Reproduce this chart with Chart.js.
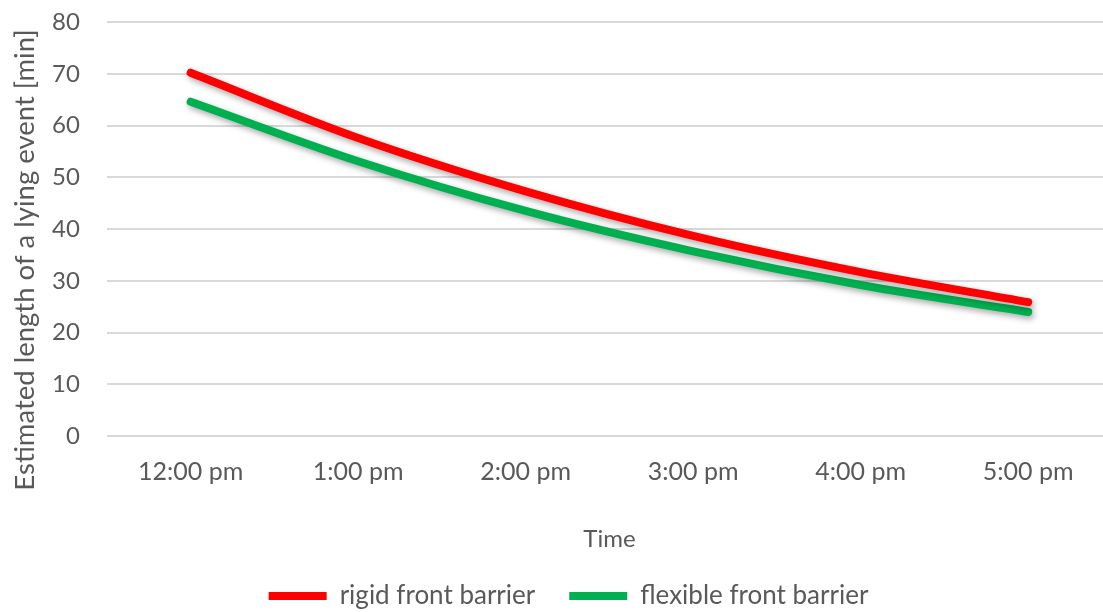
<!DOCTYPE html>
<html>
<head>
<meta charset="utf-8">
<script src="https://cdn.jsdelivr.net/npm/chart.js@4/dist/chart.umd.min.js"></script>
<style>
html,body{margin:0;padding:0;background:#fff;overflow:hidden;width:1103px;height:612px;}
#wrap{position:absolute;left:0;top:0;width:1116px;height:612px;}
</style>
</head>
<body>
<div id="wrap"><canvas id="c" width="1116" height="612"></canvas></div>
<script>
const categories = ["12:00 pm", "1:00 pm", "2:00 pm", "3:00 pm", "4:00 pm", "5:00 pm"];
const rigidValues = [70.2, 57.6, 47.3, 38.7, 31.7, 25.9];
const flexibleValues = [64.6, 53.1, 43.5, 35.7, 29.2, 24.0];
const seriesNames = ["rigid front barrier", "flexible front barrier"];
const yTitle = "Estimated length of a lying event [min]";
const xTitle = "Time";

const fontFamily = "Lato, 'Open Sans', sans-serif";
const textColor = '#595959';

const shadowPlugin = {
  id: 'shadow',
  beforeDatasetsDraw(chart) {
    const ctx = chart.ctx;
    ctx.save();
    ctx.shadowColor = 'rgba(0,0,0,0.35)';
    ctx.shadowBlur = 6;
    ctx.shadowOffsetX = 2;
    ctx.shadowOffsetY = 3;
  },
  afterDatasetsDraw(chart) {
    chart.ctx.restore();
  }
};

const yTitlePlugin = {
  id: 'yTitle',
  afterDraw(chart) {
    const ctx = chart.ctx;
    ctx.save();
    ctx.translate(25, 260);
    ctx.rotate(-Math.PI / 2);
    ctx.fillStyle = textColor;
    ctx.font = "27.5px " + fontFamily;
    ctx.textAlign = 'center';
    ctx.textBaseline = 'middle';
    ctx.fillText(yTitle, 0, 0);
    ctx.restore();
  }
};

new Chart(document.getElementById('c'), {
  type: 'line',
  data: {
    labels: categories,
    datasets: [
      {
        label: seriesNames[0],
        data: rigidValues,
        borderColor: '#ff0000',
        backgroundColor: '#ff0000',
        borderWidth: 8,
        borderCapStyle: 'round',
        borderJoinStyle: 'round',
        pointRadius: 0,
        cubicInterpolationMode: 'monotone'
      },
      {
        label: seriesNames[1],
        data: flexibleValues,
        borderColor: '#00b050',
        backgroundColor: '#00b050',
        borderWidth: 8,
        borderCapStyle: 'round',
        borderJoinStyle: 'round',
        pointRadius: 0,
        cubicInterpolationMode: 'monotone'
      }
    ]
  },
  options: {
    responsive: false,
    animation: false,
    layout: { padding: { top: 22, right: 4, left: 25, bottom: -7 } },
    plugins: {
      legend: {
        position: 'bottom',
        labels: {
          usePointStyle: true,
          pointStyle: 'line',
          pointStyleWidth: 58,
          boxHeight: 20,
          padding: 34,
          color: textColor,
          font: { family: fontFamily, size: 26 }
        }
      },
      tooltip: { enabled: false }
    },
    scales: {
      x: {
        offset: true,
        grid: { display: false, drawTicks: false, offset: true },
        border: { display: false },
        ticks: { color: textColor, font: { family: fontFamily, size: 25 }, padding: 21, maxRotation: 0 },
        title: { display: true, text: xTitle, color: textColor, font: { family: fontFamily, size: 24 }, padding: { top: 17, bottom: -5 } }
      },
      y: {
        min: 0, max: 80,
        afterFit(scale) { scale.paddingTop = 12; scale.paddingBottom = 12; },
        ticks: { stepSize: 10, color: textColor, font: { family: fontFamily, size: 24 }, padding: 27 },
        grid: { color: '#d9d9d9', lineWidth: 2, drawTicks: false },
        border: { display: false }
      }
    }
  },
  plugins: [shadowPlugin, yTitlePlugin]
});
</script>
</body>
</html>
